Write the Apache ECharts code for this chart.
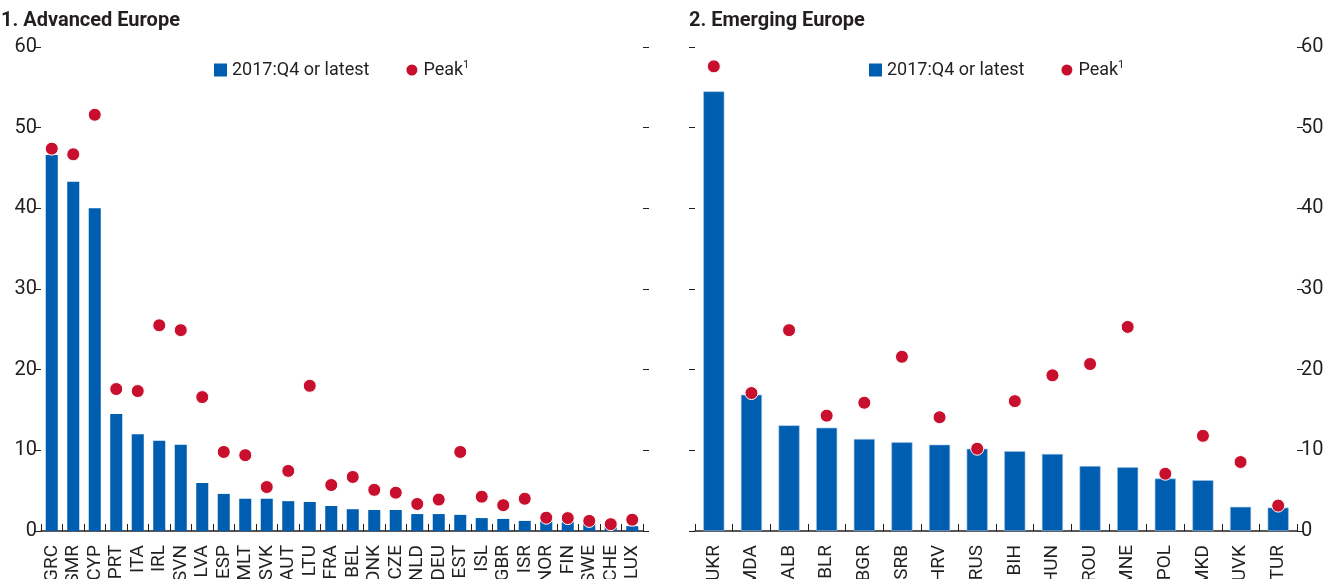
<!DOCTYPE html>
<html>
<head>
<meta charset="utf-8">
<script src="https://cdn.jsdelivr.net/npm/echarts@6/dist/echarts.min.js"></script>
<style>
  html, body { margin: 0; padding: 0; background: #fff; }
  #chart { width: 1331px; height: 579px; }
</style>
</head>
<body>
<div id="chart"></div>
<script>
const advCountries = ['GRC', 'SMR', 'CYP', 'PRT', 'ITA', 'IRL', 'SVN', 'LVA', 'ESP', 'MLT', 'SVK', 'AUT', 'LTU', 'FRA',
  'BEL', 'DNK', 'CZE', 'NLD', 'DEU', 'EST', 'ISL', 'GBR', 'ISR', 'NOR', 'FIN', 'SWE', 'CHE', 'LUX']
const advLatest = [46.6, 43.3, 40.0, 14.5, 12.0, 11.2, 10.7, 5.95, 4.6, 4.0, 4.0, 3.7, 3.6, 3.1,
  2.7, 2.6, 2.6, 2.1, 2.1, 2.0, 1.6, 1.5, 1.25, 1.2, 1.1, 0.95, 0.6, 0.6]
const advPeak = [47.4, 46.7, 51.6, 17.6, 17.35, 25.5, 24.9, 16.6, 9.8, 9.4, 5.45, 7.45, 18.0, 5.7,
  6.7, 5.1, 4.75, 3.35, 3.9, 9.8, 4.25, 3.2, 4.0, 1.65, 1.6, 1.25, 0.85, 1.4]

const emgCountries = ['UKR', 'MDA', 'ALB', 'BLR', 'BGR', 'SRB', 'HRV', 'RUS', 'BIH', 'HUN', 'ROU', 'MNE', 'POL', 'MKD', 'UVK', 'TUR']
const emgLatest = [54.5, 16.9, 13.1, 12.8, 11.4, 11.0, 10.7, 10.2, 9.9, 9.55, 8.05, 7.9, 6.5, 6.3, 3.0, 2.9]
const emgPeak = [57.6, 17.1, 24.9, 14.3, 15.9, 21.6, 14.1, 10.2, 16.1, 19.3, 20.7, 25.3, 7.1, 11.8, 8.55, 3.15]

const yTicks = [0, 10, 20, 30, 40, 50, 60]

const font = 'Roboto, "Liberation Sans", sans-serif'
const ink = '#231f20'
const blue = '#005eb0'
const red = '#c8102e'

const chart = echarts.init(document.getElementById('chart'))

function yAxis(gridIndex, position, showLabel) {
  return {
    type: 'value',
    gridIndex: gridIndex,
    position: position,
    min: yTicks[0],
    max: yTicks[yTicks.length - 1],
    interval: 10,
    axisLine: { show: false },
    axisTick: { show: true, length: 6, lineStyle: { color: ink, width: 1 } },
    axisLabel: {
      show: showLabel,
      margin: 4,
      color: ink,
      fontFamily: font,
      fontSize: 20
    },
    splitLine: { show: false }
  }
}

function xAxis(gridIndex, data) {
  return {
    type: 'category',
    gridIndex: gridIndex,
    data: data,
    axisLine: { lineStyle: { color: ink, width: 1.5 } },
    axisTick: { show: true, inside: true, length: 7, lineStyle: { color: ink, width: 1 } },
    axisLabel: {
      rotate: 90,
      interval: 0,
      margin: 14,
      color: ink,
      fontFamily: font,
      fontSize: 19
    }
  }
}

function legend(left) {
  return {
    left: left,
    top: 55,
    itemWidth: 13,
    itemHeight: 13,
    itemGap: 35,
    textStyle: {
      color: ink,
      fontFamily: font,
      fontSize: 18,
      rich: {
        sup: { fontSize: 11, fontFamily: font, color: ink, padding: [0, 0, 9, 0] }
      }
    },
    formatter: (name) => (name === 'Peak' ? 'Peak{sup|1}' : name),
    data: [
      { name: '2017:Q4 or latest', icon: 'rect' },
      { name: 'Peak', icon: 'circle' }
    ]
  }
}

chart.setOption({
  animation: false,
  title: [
    { text: '1. Advanced Europe', left: -4, top: 6, textStyle: { color: ink, fontFamily: font, fontSize: 20, fontWeight: 'bold' } },
    { text: '2. Emerging Europe', left: 684, top: 6, textStyle: { color: ink, fontFamily: font, fontSize: 20, fontWeight: 'bold' } }
  ],
  legend: [legend(209), legend(864)],
  grid: [
    { left: 41, top: 47, width: 602, height: 484, outerBoundsMode: 'none' },
    { left: 695, top: 47, width: 602, height: 484, outerBoundsMode: 'none' }
  ],
  xAxis: [xAxis(0, advCountries), xAxis(1, emgCountries)],
  yAxis: [yAxis(0, 'left', true), yAxis(0, 'right', false), yAxis(1, 'left', false), yAxis(1, 'right', true)],
  series: [
    {
      name: '2017:Q4 or latest',
      type: 'bar',
      xAxisIndex: 0,
      yAxisIndex: 0,
      barCategoryGap: '44%',
      itemStyle: { color: blue },
      data: advLatest
    },
    {
      name: 'Peak',
      type: 'scatter',
      xAxisIndex: 0,
      yAxisIndex: 0,
      symbolSize: 13,
      itemStyle: { color: red, opacity: 1, borderColor: '#fff', borderWidth: 1 },
      data: advPeak
    },
    {
      name: '2017:Q4 or latest',
      type: 'bar',
      xAxisIndex: 1,
      yAxisIndex: 2,
      barCategoryGap: '44%',
      itemStyle: { color: blue, borderColor: '#9fc3e6', borderWidth: 0.6 },
      data: emgLatest
    },
    {
      name: 'Peak',
      type: 'scatter',
      xAxisIndex: 1,
      yAxisIndex: 2,
      symbolSize: 13,
      itemStyle: { color: red, opacity: 1, borderColor: '#fff', borderWidth: 1 },
      data: emgPeak
    }
  ]
})
</script>
</body>
</html>
